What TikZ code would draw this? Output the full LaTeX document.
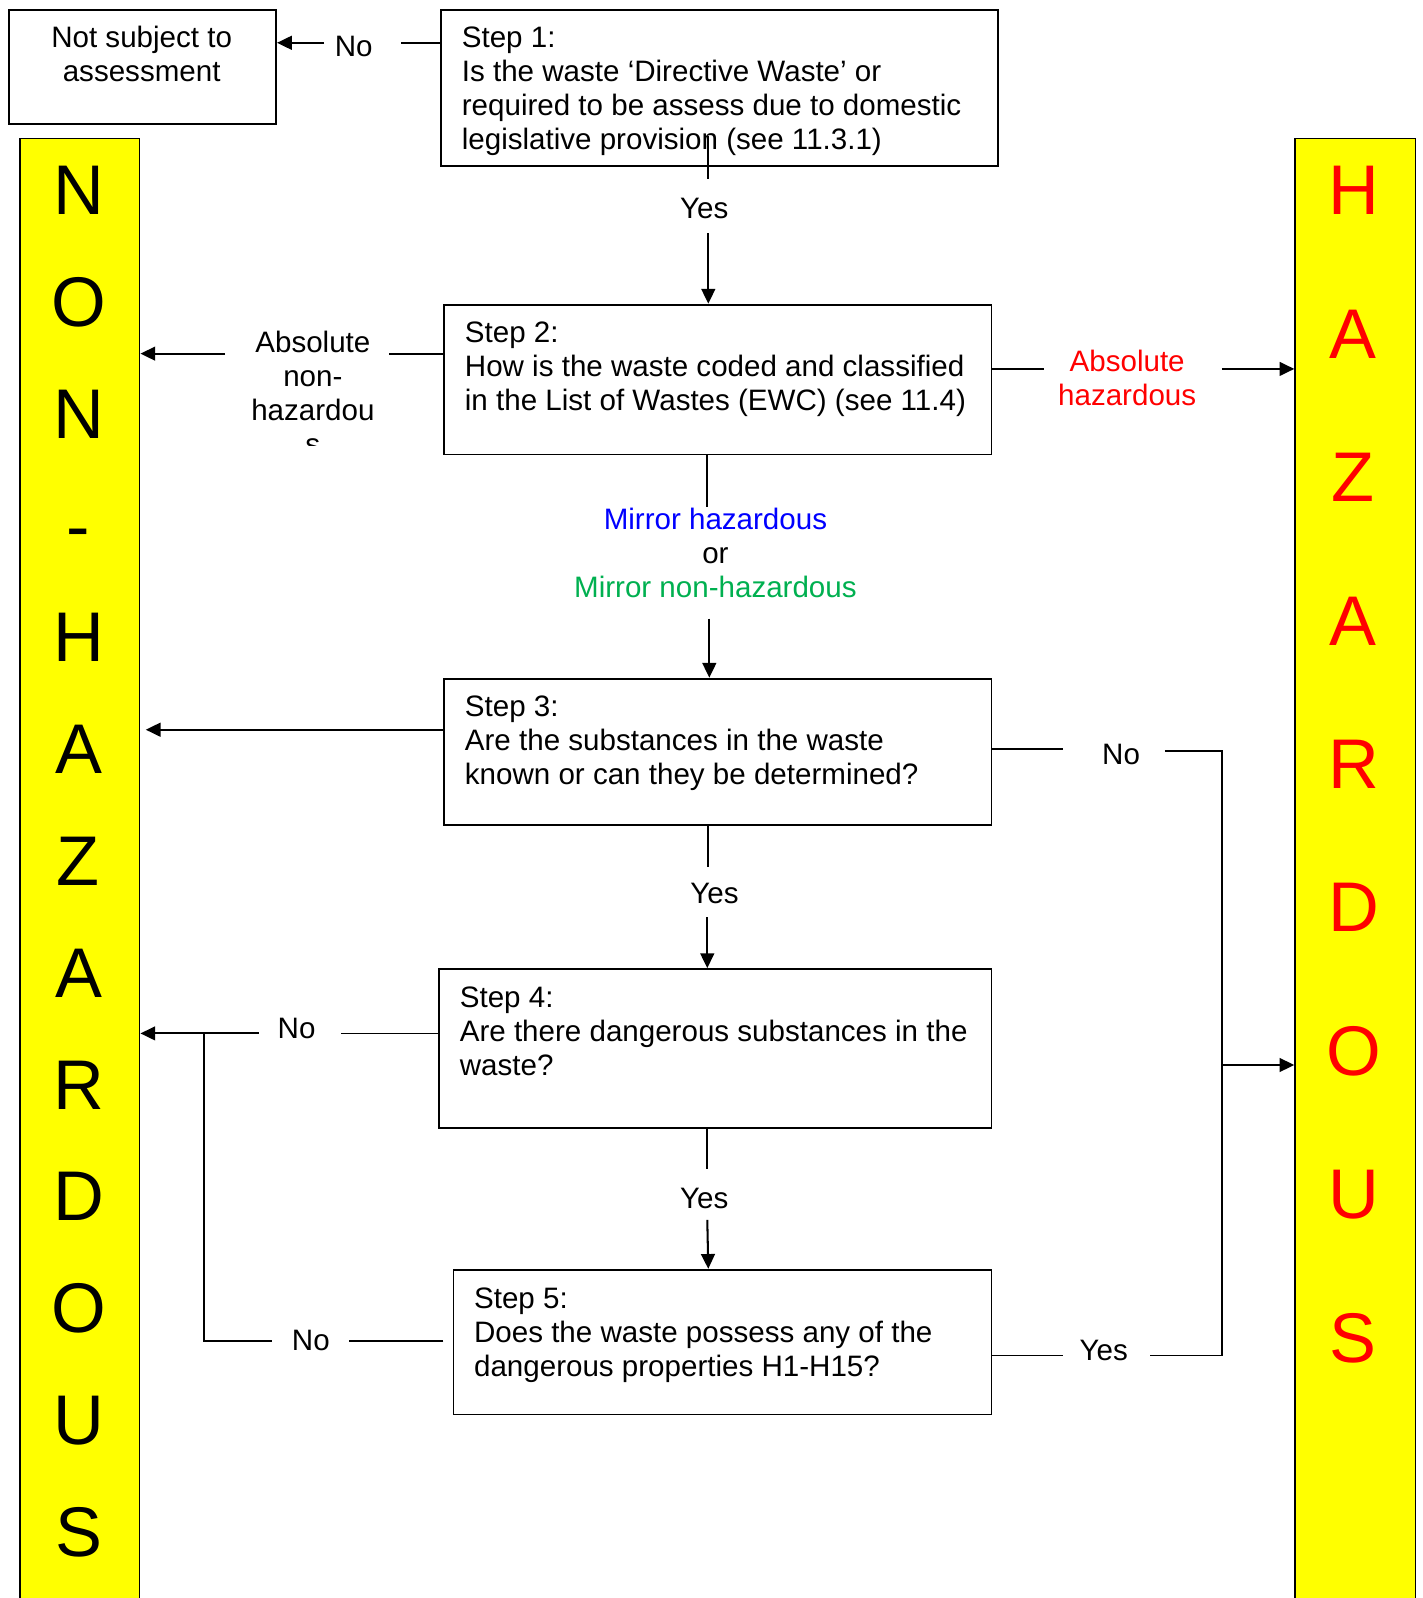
\documentclass[tikz,border=0pt]{standalone}
\usepackage{fontspec}
\setmainfont{Liberation Sans}
\usetikzlibrary{arrows.meta}
\definecolor{mblue}{RGB}{0,0,255}
\definecolor{mgreen}{RGB}{0,176,80}
\definecolor{mred}{RGB}{255,0,0}
\definecolor{myellow}{RGB}{255,255,0}
\tikzset{
  stepbox/.style={draw, line width=1.8pt, inner sep=0pt, anchor=north west},
  bar/.style={draw, fill=myellow, line width=1.8pt, inner sep=0pt, anchor=north west},
  txt/.style={font=\fontsize{29}{33.4}\selectfont, align=left, inner sep=0pt, anchor=north west},
  lbl/.style={font=\fontsize{29}{33.4}\selectfont, inner sep=0pt, text height=20.8pt, text depth=0pt},
  mlbl/.style={font=\fontsize{29}{33.4}\selectfont, align=center, inner sep=0pt, anchor=north},
  big/.style={font=\fontsize{69}{80}\selectfont, inner sep=0pt, text height=49.4pt, text depth=0pt},
  ln/.style={line width=1.7pt},
  arr/.style={line width=2pt, -{Triangle[length=14.5pt,width=13.5pt]}}
}
\begin{document}
\begin{tikzpicture}[x=1pt,y=-1pt]
\clip (0,0) rectangle (1396,1568);
\fill[white] (0,0) rectangle (1396,1568);

% side bars
\node[bar, minimum width=117pt, minimum height=1480pt] (nh) at (19,135) {};
\node[bar, minimum width=118pt, minimum height=1480pt] (hz) at (1270,135) {};
\foreach \ch [count=\i from 0] in {N,O,N,-,H,A,Z,A,R,D,O,U,S}
  \node[big] (nhl\i) at (77,186+109.7*\i) {\ch};
\foreach \ch [count=\i from 0] in {H,A,Z,A,R,D,O,U,S}
  \node[big, text=mred] (hzl\i) at (1328,186+140.75*\i) {\ch};

% boxes
\node[stepbox, minimum width=262pt, minimum height=112pt] (ns) at (8,9) {};
\node[stepbox, minimum width=546pt, minimum height=153pt] (s1) at (432,9) {};
\node[stepbox, minimum width=537pt, minimum height=147pt] (s2) at (435,298) {};
\node[stepbox, minimum width=537pt, minimum height=144pt] (s3) at (435,665) {};
\node[stepbox, minimum width=542pt, minimum height=156pt] (s4) at (430,950) {};
\node[stepbox, minimum width=528pt, minimum height=142pt] (s5) at (444,1245) {};

% box texts
\node[mlbl] (nst) at (139,25.5) {Not subject to\\assessment};
\node[txt] (s1t) at (453,26) {Step 1:\\Is the waste ‘Directive Waste’ or\\required to be assess due to domestic\\legislative provision (see 11.3.1)};
\node[txt] (s2t) at (456,316) {Step 2:\\How is the waste coded and classified\\in the List of Wastes (EWC) (see 11.4)};
\node[txt] (s3t) at (456,683) {Step 3:\\Are the substances in the waste\\known or can they be determined?};
\node[txt] (s4t) at (451,968) {Step 4:\\Are there dangerous substances in the\\waste?};
\node[txt] (s5t) at (465,1263) {Step 5:\\Does the waste possess any of the\\dangerous properties H1-H15?};

% labels
\node[lbl] (no1) at (347,45) {No};
\node[lbl] (yes1) at (691,204) {Yes};
\begin{scope}
  \clip (200,300) rectangle (420,437);
  \node[mlbl] (anh) at (307,324.6) {Absolute\\non-\\hazardou\\s};
\end{scope}
\node[mlbl, text=mred] (ah) at (1106,343.6) {Absolute\\hazardous};
\node[mlbl] (mir) at (702,498.6) {\textcolor{mblue}{Mirror hazardous}\\or\\\textcolor{mgreen}{Mirror non-hazardous}};
\node[lbl] (no3) at (1100,740) {No};
\node[lbl] (yes3) at (701,876) {Yes};
\node[lbl] (no4) at (291,1009) {No};
\node[lbl] (yes4) at (691,1175) {Yes};
\node[lbl] (no5) at (305,1315) {No};
\node[lbl] (yes5) at (1083,1325) {Yes};

% step 1
\draw[ln] (s1.west |- 0,42) -- (393,42);
\draw[arr] (318,42) -- (ns.east |- 0,42);
\draw[ln] (695,133) -- (695,176);
\draw[arr] (695,229) -- (s2.north -| 695,0);

% step 2
\draw[ln] (s2.west |- 0,347) -- (382,347);
\draw[arr] (221,347) -- (nh.east |- 0,347);
\draw[ln] (s2.east |- 0,362) -- (1024,362);
\draw[arr] (1199,362) -- (hz.west |- 0,362);
\draw[ln] (s2.south -| 694,0) -- (694,497);
\draw[arr] (696,607) -- (s3.north -| 696,0);

% step 3
\draw[arr] (s3.west |- 0,716) -- (143,716);
\draw[ln] (s3.east |- 0,735) -- (1043,735);
\draw[ln] (1143,737) -- (1199,737) -- (1199,1330) -- (1128,1330);
\draw[arr] (1199,1045) -- (hz.west |- 0,1045);
\draw[ln] (s3.south -| 695,0) -- (695,851);
\draw[arr] (694,900) -- (s4.north -| 694,0);

% step 4
\draw[ln] (s4.west |- 0,1014) -- (335,1014);
\draw[arr] (254,1014) -- (nh.east |- 0,1014);
\draw[ln] (200,1014) -- (200,1316) -- (267,1316);
\draw[ln] (s4.south -| 694,0) -- (694,1147);
\draw[arr] (694,1197) -- (s5.north -| 695,0);

% step 5
\draw[ln] (435,1316) -- (342,1316);
\draw[ln] (s5.east |- 0,1330) -- (1043,1330);
\end{tikzpicture}
\end{document}
